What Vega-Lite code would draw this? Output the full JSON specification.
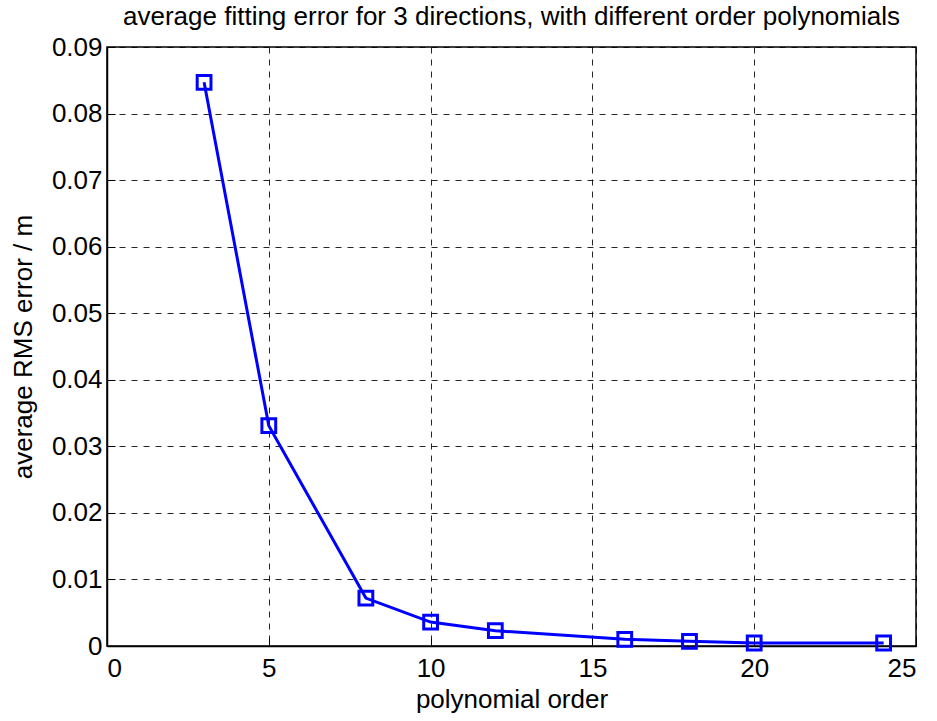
{
  "$schema": "https://vega.github.io/schema/vega-lite/v6.json",
  "width": 809,
  "height": 599,
  "autosize": {"type": "none"},
  "padding": {"left": 107, "top": 47, "right": 21, "bottom": 75},
  "background": "white",
  "config": {
    "font": "Liberation Sans",
    "view": {"stroke": "black", "strokeWidth": 1.5},
    "title": {"font": "Liberation Sans", "fontSize": 26, "fontWeight": "normal", "color": "black", "offset": 4},
    "axis": {
      "labelFont": "Liberation Sans",
      "labelFontSize": 26,
      "labelColor": "black",
      "titleFont": "Liberation Sans",
      "titleFontSize": 26,
      "titleFontWeight": "normal",
      "titleColor": "black",
      "domainColor": "black",
      "domainWidth": 1.5,
      "tickColor": "black",
      "tickSize": 8,
      "tickOffset": 0,
      "grid": true,
      "gridColor": "black",
      "gridDash": [6, 6],
      "gridWidth": 1,
      "gridOpacity": 0.85
    }
  },
  "title": {"text": "average fitting error for 3 directions, with different order polynomials", "anchor": "middle"},
  "data": {
    "values": [
      {"order": 3, "rms": 0.0847},
      {"order": 5, "rms": 0.0331},
      {"order": 8, "rms": 0.0072},
      {"order": 10, "rms": 0.0036},
      {"order": 12, "rms": 0.0023},
      {"order": 16, "rms": 0.0010},
      {"order": 18, "rms": 0.0007},
      {"order": 20, "rms": 0.00045},
      {"order": 24, "rms": 0.00045}
    ]
  },
  "encoding": {
    "x": {
      "field": "order",
      "type": "quantitative",
      "scale": {"domain": [0, 25], "nice": false, "zero": false},
      "axis": {"title": "polynomial order", "values": [0, 5, 10, 15, 20, 25], "tickSize": -8, "labelPadding": 17, "titlePadding": 5}
    },
    "y": {
      "field": "rms",
      "type": "quantitative",
      "scale": {"domain": [0, 0.09], "nice": false},
      "axis": {
        "title": "average RMS error / m",
        "values": [0, 0.01, 0.02, 0.03, 0.04, 0.05, 0.06, 0.07, 0.08, 0.09],
        "format": "~g",
        "tickSize": -8,
        "labelPadding": 13,
        "titlePadding": 15
      }
    }
  },
  "layer": [
    {"mark": {"type": "line", "color": "#0000ff", "strokeWidth": 3}},
    {"mark": {"type": "point", "shape": "square", "size": 190, "filled": false, "color": "#0000ff", "strokeWidth": 3, "opacity": 1}}
  ]
}
